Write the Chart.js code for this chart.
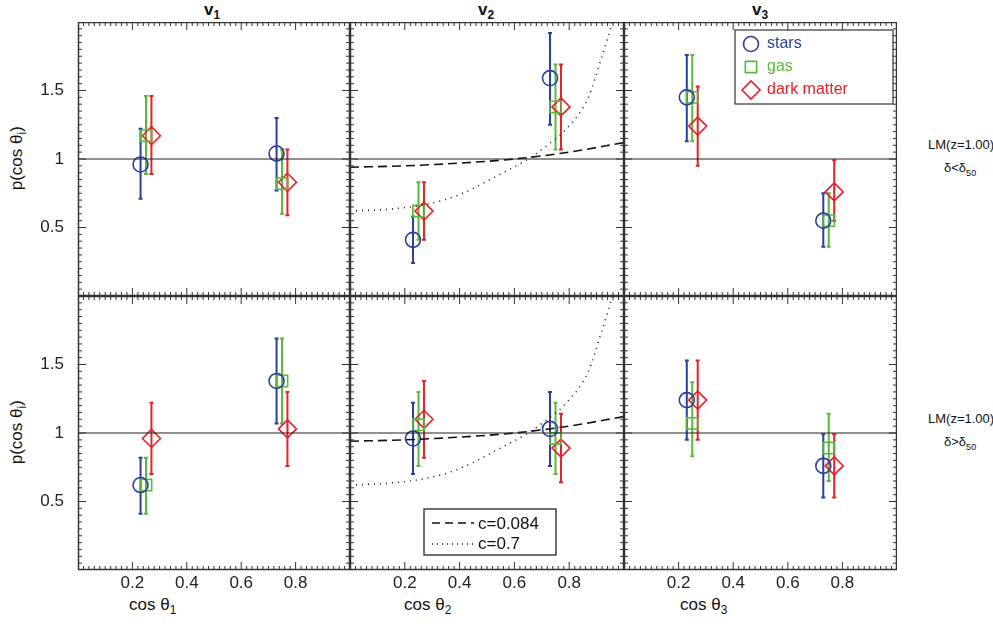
<!DOCTYPE html>
<html>
<head>
<meta charset="utf-8">
<script src="https://cdn.jsdelivr.net/npm/chart.js@4.4.1/dist/chart.umd.min.js"></script>
<style>
  body { margin: 0; background: #fff; font-family: "Liberation Sans", Arial, sans-serif; }
  #wrap { position: relative; width: 993px; height: 629px; }
  .pane { position: absolute; }
  .lbl { position: absolute; color: #111; white-space: nowrap; }
  .rot { width: 90px; text-align: center; transform: rotate(-90deg); }
  sub { font-size: 70%; }
</style>
</head>
<body>
<div id="wrap">
  <div class="lbl" style="left:204px;top:0px;font-size:17px;font-weight:bold">v<sub>1</sub></div>
  <div class="lbl" style="left:478px;top:0px;font-size:17px;font-weight:bold">v<sub>2</sub></div>
  <div class="lbl" style="left:752px;top:0px;font-size:17px;font-weight:bold">v<sub>3</sub></div>

  <div class="lbl rot" style="left:-27px;top:147px;font-size:17px">p(cos θ<sub>i</sub>)</div>
  <div class="lbl rot" style="left:-27px;top:421px;font-size:17px">p(cos θ<sub>i</sub>)</div>

  <div class="lbl" style="left:129px;top:595px;font-size:17px">cos θ<sub>1</sub></div>
  <div class="lbl" style="left:404px;top:595px;font-size:17px">cos θ<sub>2</sub></div>
  <div class="lbl" style="left:680px;top:595px;font-size:17px">cos θ<sub>3</sub></div>

  <div class="lbl" style="left:928px;top:137px;font-size:13px">LM(z=1.00)</div>
  <div class="lbl" style="left:944px;top:160px;font-size:13px">δ&lt;δ<sub>50</sub></div>
  <div class="lbl" style="left:928px;top:411px;font-size:13px">LM(z=1.00)</div>
  <div class="lbl" style="left:944px;top:434px;font-size:13px">δ&gt;δ<sub>50</sub></div>
</div>
<script>
// bin centres, species are shifted right a little so the error bars don't overlap
const binX = [0.23, 0.73];
const gasShift = 0.02;
const dmShift = 0.04;

// panel order: v1 low, v2 low, v3 low, v1 high, v2 high, v3 high
const starsVal = [[0.96, 1.04], [0.41, 1.59], [1.45, 0.55], [0.62, 1.38], [0.96, 1.03], [1.24, 0.76]];
const starsLo  = [[0.71, 0.77], [0.24, 1.25], [1.13, 0.36], [0.41, 1.07], [0.70, 0.76], [0.95, 0.53]];
const starsHi  = [[1.22, 1.30], [0.58, 1.92], [1.76, 0.75], [0.82, 1.69], [1.22, 1.30], [1.53, 0.99]];

const gasVal = [[1.17, 0.82], [0.62, 1.38], [1.45, 0.55], [0.62, 1.38], [1.06, 0.96], [1.07, 0.89]];
const gasLo  = [[0.89, 0.60], [0.41, 1.07], [1.13, 0.36], [0.41, 1.07], [0.76, 0.70], [0.83, 0.65]];
const gasHi  = [[1.46, 1.07], [0.83, 1.69], [1.76, 0.75], [0.82, 1.69], [1.30, 1.22], [1.37, 1.14]];

const dmVal = [[1.17, 0.83], [0.62, 1.38], [1.24, 0.76], [0.96, 1.03], [1.10, 0.89], [1.24, 0.76]];
const dmLo  = [[0.89, 0.59], [0.41, 1.07], [0.95, 0.55], [0.70, 0.76], [0.82, 0.64], [0.95, 0.53]];
const dmHi  = [[1.46, 1.07], [0.83, 1.69], [1.53, 0.99], [1.22, 1.30], [1.38, 1.14], [1.53, 0.99]];

// model curves shown in the v2 panels
const curveX084 = [0, 0.2, 0.4, 0.6, 0.8, 1.0];
const curveY084 = [0.94, 0.95, 0.97, 1.0, 1.05, 1.12];
const curveX07 = [0, 0.15, 0.28, 0.4, 0.53, 0.65, 0.72, 0.79, 0.87, 0.915, 0.96, 0.99];
const curveY07 = [0.62, 0.635, 0.67, 0.74, 0.87, 1.0, 1.1, 1.22, 1.45, 1.72, 2.02, 2.3];

const xTicks = [0.2, 0.4, 0.6, 0.8];
const yTicks = [0.5, 1, 1.5];

const BLUE = '#2b3f9c', GREEN = '#5bb83c', RED = '#e8202a';

const pts = (xs, ys) => xs.map((x, i) => ({ x: x, y: ys[i] }));

// error bars from errLo/errHi stored on each dataset
const errorBars = {
  id: 'errorBars',
  beforeDatasetsDraw(chart) {
    const ctx = chart.ctx, ys = chart.scales.y, xs = chart.scales.x;
    chart.data.datasets.forEach(ds => {
      if (!ds.errLo) return;
      ctx.save();
      ctx.strokeStyle = ds.borderColor;
      ctx.lineWidth = 2;
      ds.data.forEach((p, i) => {
        const px = xs.getPixelForValue(p.x);
        const y1 = ys.getPixelForValue(ds.errLo[i]), y2 = ys.getPixelForValue(ds.errHi[i]);
        ctx.beginPath();
        ctx.moveTo(px, y1); ctx.lineTo(px, y2);
        ctx.moveTo(px - 2, y1); ctx.lineTo(px + 2, y1);
        ctx.moveTo(px - 2, y2); ctx.lineTo(px + 2, y2);
        ctx.stroke();
      });
      ctx.restore();
    });
  }
};

// box with inward major/minor ticks on all four sides
const frame = {
  id: 'frame',
  afterDraw(chart) {
    const ctx = chart.ctx, a = chart.chartArea, xs = chart.scales.x, ys = chart.scales.y;
    ctx.save();
    ctx.strokeStyle = '#333';
    ctx.lineWidth = 1.5;
    ctx.strokeRect(a.left + 0.5, a.top + 0.5, a.right - a.left - 1, a.bottom - a.top - 1);
    ctx.lineWidth = 1;
    ctx.beginPath();
    for (let k = 1; k < 50; k++) {
      const v = k * 0.02, px = xs.getPixelForValue(v);
      const len = (k % 10 === 0) ? 8 : 4;
      ctx.moveTo(px, a.bottom); ctx.lineTo(px, a.bottom - len);
      ctx.moveTo(px, a.top); ctx.lineTo(px, a.top + len);
    }
    for (let k = 1; k < 40; k++) {
      const v = k * 0.05, py = ys.getPixelForValue(v);
      const len = (k % 10 === 0) ? 8 : 4;
      ctx.moveTo(a.left, py); ctx.lineTo(a.left + len, py);
      ctx.moveTo(a.right, py); ctx.lineTo(a.right - len, py);
    }
    ctx.stroke();
    ctx.restore();
  }
};

const pointLegend = {
  id: 'pointLegend',
  afterDraw(chart) {
    if (!chart.options.plugins.pointLegend.show) return;
    const ctx = chart.ctx, a = chart.chartArea;
    const x0 = a.left + 111, y0 = a.top + 8;
    ctx.save();
    ctx.fillStyle = '#fff';
    ctx.fillRect(x0, y0, 158, 74);
    ctx.strokeStyle = '#333'; ctx.lineWidth = 1.2;
    ctx.strokeRect(x0, y0, 158, 74);
    const items = [['stars', BLUE, 'circle', 7.5], ['gas', GREEN, 'rect', 8], ['dark matter', RED, 'rectRot', 9]];
    ctx.font = '16px "Liberation Sans", Arial, sans-serif';
    ctx.textBaseline = 'middle';
    items.forEach((it, i) => {
      const yy = y0 + 14 + i * 23;
      ctx.strokeStyle = it[1]; ctx.lineWidth = 1.6;
      ctx.fillStyle = 'rgba(0,0,0,0)';
      Chart.helpers.drawPoint(ctx, { pointStyle: it[2], radius: it[3], rotation: 0, borderWidth: 1.6 }, x0 + 16, yy);
      ctx.fillStyle = it[1];
      ctx.fillText(it[0], x0 + 32, yy);
    });
    ctx.restore();
  }
};

const lineLegend = {
  id: 'lineLegend',
  afterDraw(chart) {
    if (!chart.options.plugins.lineLegend.show) return;
    const ctx = chart.ctx, a = chart.chartArea;
    const x0 = a.left + 74, y0 = a.top + 213;
    ctx.save();
    ctx.fillStyle = '#fff';
    ctx.fillRect(x0, y0, 132, 46);
    ctx.strokeStyle = '#222'; ctx.lineWidth = 1.3;
    ctx.strokeRect(x0, y0, 132, 46);
    ctx.font = '17px "Liberation Sans", Arial, sans-serif';
    ctx.textBaseline = 'middle';
    ctx.fillStyle = '#111';
    ctx.strokeStyle = '#111';
    ctx.lineWidth = 1.5;
    ctx.setLineDash([8, 5]);
    ctx.beginPath(); ctx.moveTo(x0 + 8, y0 + 14); ctx.lineTo(x0 + 50, y0 + 14); ctx.stroke();
    ctx.setLineDash([1, 4]);
    ctx.beginPath(); ctx.moveTo(x0 + 8, y0 + 35); ctx.lineTo(x0 + 50, y0 + 35); ctx.stroke();
    ctx.setLineDash([]);
    ctx.fillText('c=0.084', x0 + 54, y0 + 15);
    ctx.fillText('c=0.7', x0 + 54, y0 + 35);
    ctx.restore();
  }
};

function makePanel(idx, left, top, width, height, showY, showX) {
  const div = document.createElement('div');
  div.className = 'pane';
  div.style.left = left + 'px'; div.style.top = top + 'px';
  div.style.width = width + 'px'; div.style.height = height + 'px';
  const canvas = document.createElement('canvas');
  canvas.width = width; canvas.height = height;
  div.appendChild(canvas);
  document.getElementById('wrap').appendChild(div);

  const col = idx % 3;
  const sym = (label, color, style, r, shift, val, lo, hi) => ({
    label: label, type: 'scatter',
    data: binX.map((x, i) => ({ x: x + shift, y: val[idx][i] })),
    errLo: lo[idx], errHi: hi[idx],
    borderColor: color, backgroundColor: 'rgba(0,0,0,0)',
    pointStyle: style, pointRadius: r, pointHoverRadius: r, pointBorderWidth: 1.6
  });

  const datasets = [
    { type: 'line', data: [{ x: 0, y: 1 }, { x: 1, y: 1 }], borderColor: '#222', borderWidth: 1.2, pointRadius: 0 }
  ];
  if (col === 1) {
    datasets.push({ type: 'line', data: pts(curveX084, curveY084), borderColor: '#111', borderWidth: 1.6,
      borderDash: [9, 5], pointRadius: 0, cubicInterpolationMode: 'monotone' });
    datasets.push({ type: 'line', data: pts(curveX07, curveY07), borderColor: '#111', borderWidth: 1.5,
      borderDash: [1, 5], pointRadius: 0, cubicInterpolationMode: 'monotone' });
  }
  datasets.push(sym('stars', BLUE, 'circle', 7.5, 0, starsVal, starsLo, starsHi));
  datasets.push(sym('gas', GREEN, 'rect', 8, gasShift, gasVal, gasLo, gasHi));
  datasets.push(sym('dark matter', RED, 'rectRot', 9, dmShift, dmVal, dmLo, dmHi));

  const tickFont = { family: '"Liberation Sans", Arial, sans-serif', size: 17 };
  new Chart(canvas, {
    type: 'scatter',
    data: { datasets: datasets },
    options: {
      responsive: false, animation: false,
      layout: { padding: 0, autoPadding: false },
      plugins: {
        legend: { display: false }, tooltip: { enabled: false },
        pointLegend: { show: idx === 2 },
        lineLegend: { show: idx === 4 }
      },
      scales: {
        x: {
          type: 'linear', min: 0, max: 1, display: showX,
          grid: { display: false }, border: { display: false },
          afterBuildTicks: s => { s.ticks = xTicks.map(v => ({ value: v })); },
          afterFit: s => { s.height = showX ? 59 : 0; s.paddingLeft = 0; s.paddingRight = 0; },
          ticks: { color: '#222', font: tickFont, padding: -5, maxRotation: 0, callback: v => String(v) }
        },
        y: {
          type: 'linear', min: 0, max: 2, display: showY,
          grid: { display: false }, border: { display: false },
          afterBuildTicks: s => { s.ticks = yTicks.map(v => ({ value: v })); },
          afterFit: s => { s.width = showY ? 78 : 0; s.paddingTop = 0; s.paddingBottom = 0; },
          ticks: { color: '#222', font: tickFont, padding: 6, callback: v => String(v) }
        }
      }
    },
    plugins: [errorBars, frame, pointLegend, lineLegend]
  });
}

const colLeft = [0, 350, 624];
const colWidth = [350, 274, 273];
for (let i = 0; i < 6; i++) {
  const col = i % 3, bottom = i >= 3;
  makePanel(i, colLeft[col], bottom ? 296 : 22, colWidth[col], bottom ? 333 : 274, col === 0, bottom);
}
</script>
</body>
</html>
